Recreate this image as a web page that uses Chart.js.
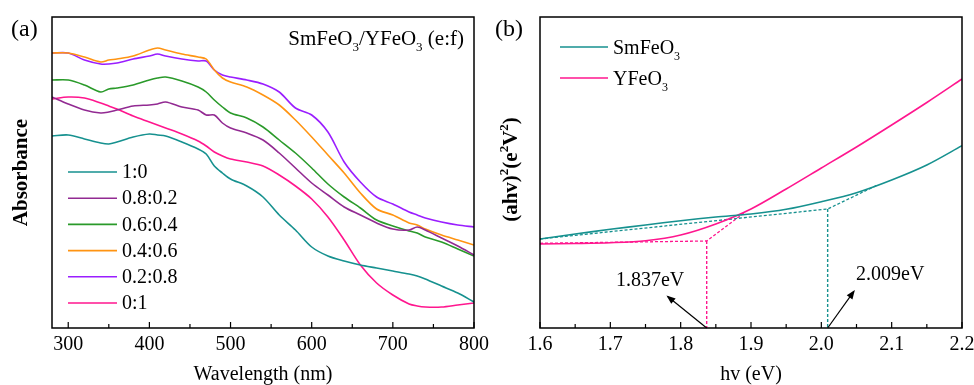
<!DOCTYPE html>
<html>
<head>
<meta charset="utf-8">
<script src="https://cdn.jsdelivr.net/npm/chart.js@4.4.1/dist/chart.umd.min.js"></script>
<style>
  body { margin: 0; background: #fff; }
  .panel { position: absolute; top: 0; width: 487px; height: 385px; }
</style>
</head>
<body>
<div class="panel" style="left:0;width:500px"><canvas id="absChart"></canvas></div>
<div class="panel" style="left:487px"><canvas id="taucChart"></canvas></div>
<script>
// ---- panel (a): UV-vis absorbance (arbitrary units) ----
const wavelength = [280, 300, 320, 340, 350, 360, 380, 400, 410, 420, 440, 460, 470, 480, 490, 500, 520, 540, 560, 580, 600, 620, 640, 660, 680, 700, 720, 730, 740, 760, 780, 800];
const abs_1_0   = [192, 193, 189, 185, 184, 186, 191, 194, 193, 192, 186, 179, 174, 162, 155, 149, 142, 131, 113, 98, 81, 72, 67, 63, 60, 57, 54, 52, 49, 42, 35, 26];
const abs_08_02 = [231, 224, 218, 215, 216, 218, 222, 223, 224, 226, 221, 218, 213, 213, 205, 200, 195, 188, 175, 160, 145, 133, 121, 113, 105, 99, 98, 101, 98, 90, 82, 73];
const abs_06_04 = [248, 248, 243, 236, 239, 240, 243, 248, 250, 251, 247, 241, 236, 228, 221, 215, 210, 201, 188, 175, 160, 144, 131, 120, 108, 102, 97, 95, 91, 86, 79, 72];
const abs_04_06 = [275, 275, 271, 266, 268, 269, 272, 278, 280, 278, 274, 271, 269, 258, 250, 246, 241, 233, 223, 208, 191, 173, 155, 135, 119, 113, 105, 103, 99, 93, 88, 83];
const abs_02_08 = [275, 275, 268, 264, 264, 265, 269, 272, 274, 272, 269, 267, 267, 258, 253, 251, 248, 244, 236, 220, 213, 196, 166, 146, 131, 124, 116, 113, 110, 106, 103, 101];
const abs_0_1   = [229, 231, 230, 225, 222, 219, 212, 206, 203, 200, 194, 187, 182, 176, 172, 169, 166, 162, 153, 142, 129, 111, 88, 63, 45, 33, 24, 22, 21, 21, 23, 25];
const ratioLabels = ['1:0', '0.8:0.2', '0.6:0.4', '0.4:0.6', '0.2:0.8', '0:1'];
const xTicksA = [300, 400, 500, 600, 700, 800];
const xMinorA = [350, 450, 550, 650, 750];

// ---- panel (b): Tauc plot ----
const energy = [1.6, 1.65, 1.7, 1.75, 1.8, 1.85, 1.9, 1.95, 2.0, 2.05, 2.1, 2.15, 2.2];
const taucSm = [89, 94, 98.7, 103, 107.3, 111, 114, 118.7, 126.3, 135.3, 148, 163, 182.3];
const taucY  = [84, 84.5, 85.3, 87.3, 93, 104, 119, 139, 160, 181, 203, 225.5, 249];
const fitSmX = [1.6, 2.009, 2.08];
const fitSmY = [89, 119, 143];
const fitYX  = [1.6, 1.837, 1.89];
const fitYY  = [84.7, 87, 115];
const bandGaps = [1.837, 2.009];
const gapTop = [87, 119];
const gapLabelPos = [[1.7565, 47], [2.098, 53]];
const arrows = [[1.837, 0, 1.782, 31.3], [2.009, 0, 2.046, 36.3]];
const xTicksB = [1.6, 1.7, 1.8, 1.9, 2.0, 2.1, 2.2];
const xMinorB = [1.65, 1.75, 1.85, 1.95, 2.05, 2.15];

const SERIF = "'Liberation Serif', 'Times New Roman', serif";
Chart.defaults.font.family = SERIF;
Chart.defaults.color = '#000';

const colorsA = ['#16918f', '#922a92', '#2a9a2a', '#ff9412', '#9a1eff', '#ff168e'];
const TEAL = '#16918f', PINK = '#ff168e';

function pts(xs, ys) { return xs.map((x, i) => ({ x: x, y: ys[i] })); }

// text with sub/superscripts: parts = [[text, shift]] (0 normal, 1 sub, -1 sup)
function fontFor(p, size, weight) { return weight + ' ' + (p[1] ? Math.round(size * 0.62) : size) + 'px ' + SERIF; }
function richWidth(ctx, parts, size, weight) {
    let w = 0;
    parts.forEach(p => { ctx.font = fontFor(p, size, weight); w += ctx.measureText(p[0]).width; });
    return w;
}
function drawRich(ctx, parts, x, y, size, weight) {
    weight = weight || 'normal';
    ctx.textBaseline = 'alphabetic';
    ctx.textAlign = 'left';
    parts.forEach(p => {
        ctx.font = fontFor(p, size, weight);
        const dy = p[1] === 1 ? size * 0.28 : (p[1] === -1 ? -size * 0.42 : 0);
        ctx.fillText(p[0], x, y + dy);
        x += ctx.measureText(p[0]).width;
    });
}

function drawFrame(chart, minor) {
    const ctx = chart.ctx, a = chart.chartArea, xs = chart.scales.x;
    ctx.save();
    ctx.strokeStyle = '#000';
    ctx.lineWidth = 1.5;
    ctx.strokeRect(a.left, a.top, a.right - a.left, a.bottom - a.top);
    ctx.lineWidth = 1.2;
    ctx.beginPath();
    xs.ticks.forEach(t => { const px = xs.getPixelForValue(t.value); ctx.moveTo(px, a.bottom); ctx.lineTo(px, a.bottom - 6); });
    minor.forEach(v => { const px = xs.getPixelForValue(v); ctx.moveTo(px, a.bottom); ctx.lineTo(px, a.bottom - 4); });
    ctx.stroke();
    ctx.restore();
}

function axisScales(xMin, xMax, xTicks, xTitle, yTitle, yPad, fmt) {
    return {
        x: {
            type: 'linear', min: xMin, max: xMax,
            afterBuildTicks: s => { s.ticks = xTicks.map(v => ({ value: v })); },
            // let end labels overhang the plot edge instead of shrinking it
            afterFit: s => { s.height = 57; s.paddingLeft = 0; s.paddingRight = 0; },
            grid: { display: false, drawTicks: false },
            border: { display: false },
            ticks: { font: { size: 20 }, padding: 5, maxRotation: 0, callback: fmt },
            title: { display: true, text: xTitle, font: { size: 20 }, padding: { top: 0, bottom: -2 } }
        },
        y: {
            min: 0, max: 311,
            afterFit: s => { s.width = 52; s.paddingTop = 0; s.paddingBottom = 0; },
            grid: { display: false, drawTicks: false },
            border: { display: false },
            ticks: { display: false },
            title: { display: !!yTitle, text: yTitle, font: { size: 21, weight: 'bold' }, padding: { top: yPad, bottom: 0 } }
        }
    };
}

// ---- chart (a) ----
const seriesA = [abs_1_0, abs_08_02, abs_06_04, abs_04_06, abs_02_08, abs_0_1];
new Chart(document.getElementById('absChart'), {
    type: 'line',
    data: {
        datasets: seriesA.map((s, i) => ({
            label: ratioLabels[i],
            data: pts(wavelength, s),
            borderColor: colorsA[i],
            borderWidth: 1.6,
            pointRadius: 0,
            tension: 0.3,
            fill: false
        }))
    },
    options: {
        responsive: true,
        maintainAspectRatio: false,
        animation: false,
        layout: { autoPadding: false, padding: { top: 17, right: 26, left: 0, bottom: 0 } },
        plugins: { legend: { display: false }, tooltip: { enabled: false } },
        scales: axisScales(280, 800, xTicksA, 'Wavelength (nm)', 'Absorbance', 9, v => String(v))
    },
    plugins: [{
        id: 'decorA',
        afterDraw(chart) {
            drawFrame(chart, xMinorA);
            const ctx = chart.ctx;
            ctx.save();
            ctx.fillStyle = '#000';
            ctx.font = '24px ' + SERIF;
            ctx.textBaseline = 'alphabetic';
            ctx.fillText('(a)', 11, 36);
            const title = [['SmFeO', 0], ['3', 1], ['/YFeO', 0], ['3', 1], [' (e:f)', 0]];
            const w = richWidth(ctx, title, 21, 'normal');
            drawRich(ctx, title, 464 - w, 45, 21);
            chart.data.datasets.forEach((ds, i) => {
                const y = 172 + i * 26.2;
                ctx.strokeStyle = ds.borderColor;
                ctx.lineWidth = 1.6;
                ctx.beginPath(); ctx.moveTo(68, y); ctx.lineTo(117, y); ctx.stroke();
                ctx.font = '20px ' + SERIF;
                ctx.textBaseline = 'middle';
                ctx.fillText(ds.label, 122, y + 1);
            });
            ctx.restore();
        }
    }]
});

// ---- chart (b) ----
new Chart(document.getElementById('taucChart'), {
    type: 'line',
    data: {
        datasets: [
            { label: 'SmFeO3', data: pts(energy, taucSm), borderColor: TEAL, borderWidth: 1.6, pointRadius: 0, tension: 0.3 },
            { label: 'YFeO3', data: pts(energy, taucY), borderColor: PINK, borderWidth: 1.6, pointRadius: 0, tension: 0.3 },
            { data: pts(fitSmX, fitSmY), borderColor: TEAL, borderWidth: 1.3, borderDash: [3, 2], pointRadius: 0 },
            { data: pts(fitYX, fitYY), borderColor: PINK, borderWidth: 1.3, borderDash: [3, 2], pointRadius: 0 },
            { data: pts([bandGaps[0], bandGaps[0]], [gapTop[0], 0]), borderColor: PINK, borderWidth: 1.4, borderDash: [3, 2], pointRadius: 0 },
            { data: pts([bandGaps[1], bandGaps[1]], [gapTop[1], 0]), borderColor: TEAL, borderWidth: 1.4, borderDash: [3, 2], pointRadius: 0 }
        ]
    },
    options: {
        responsive: true,
        maintainAspectRatio: false,
        animation: false,
        layout: { autoPadding: false, padding: { top: 17, right: 12, left: 1, bottom: 0 } },
        plugins: { legend: { display: false }, tooltip: { enabled: false } },
        scales: axisScales(1.6, 2.2, xTicksB, 'hv (eV)', '', 12, v => v.toFixed(1))
    },
    plugins: [{
        id: 'decorB',
        afterDraw(chart) {
            drawFrame(chart, xMinorB);
            const ctx = chart.ctx, xs = chart.scales.x, ys = chart.scales.y;
            ctx.save();
            ctx.fillStyle = '#000';
            ctx.font = '24px ' + SERIF;
            ctx.textBaseline = 'alphabetic';
            ctx.fillText('(b)', 8, 36);
            // y axis title with superscripts
            const yTitle = [['(ahv)', 0], ['2', -1], ['(e', 0], ['2', -1], ['V', 0], ['2', -1], [')', 0]];
            const tw = richWidth(ctx, yTitle, 21, 'bold');
            ctx.save();
            ctx.translate(30, (chart.chartArea.top + chart.chartArea.bottom) / 2 - 3);
            ctx.rotate(-Math.PI / 2);
            drawRich(ctx, yTitle, -tw / 2, 0, 21, 'bold');
            ctx.restore();
            // legend
            [['SmFeO', TEAL], ['YFeO', PINK]].forEach((it, i) => {
                const y = 47 + i * 31;
                ctx.strokeStyle = it[1];
                ctx.lineWidth = 1.6;
                ctx.beginPath(); ctx.moveTo(73, y); ctx.lineTo(121, y); ctx.stroke();
                drawRich(ctx, [[it[0], 0], ['3', 1]], 126, y + 7, 20);
            });
            // band gap labels
            ctx.font = '20px ' + SERIF;
            ctx.textAlign = 'center';
            ctx.textBaseline = 'middle';
            gapLabelPos.forEach((p, i) => {
                ctx.fillText(bandGaps[i].toFixed(3) + 'eV', xs.getPixelForValue(p[0]), ys.getPixelForValue(p[1]));
            });
            // arrows
            ctx.strokeStyle = '#000';
            ctx.lineWidth = 1.2;
            arrows.forEach(a => {
                const x0 = xs.getPixelForValue(a[0]), y0 = ys.getPixelForValue(a[1]);
                const x1 = xs.getPixelForValue(a[2]), y1 = ys.getPixelForValue(a[3]);
                const ang = Math.atan2(y1 - y0, x1 - x0);
                ctx.beginPath(); ctx.moveTo(x0, y0); ctx.lineTo(x1, y1); ctx.stroke();
                ctx.beginPath();
                ctx.moveTo(x1 + Math.cos(ang) * 2, y1 + Math.sin(ang) * 2);
                ctx.lineTo(x1 - Math.cos(ang) * 7 - Math.sin(ang) * 3.5, y1 - Math.sin(ang) * 7 + Math.cos(ang) * 3.5);
                ctx.lineTo(x1 - Math.cos(ang) * 7 + Math.sin(ang) * 3.5, y1 - Math.sin(ang) * 7 - Math.cos(ang) * 3.5);
                ctx.closePath(); ctx.fill();
            });
            ctx.restore();
        }
    }]
});
</script>
</body>
</html>
